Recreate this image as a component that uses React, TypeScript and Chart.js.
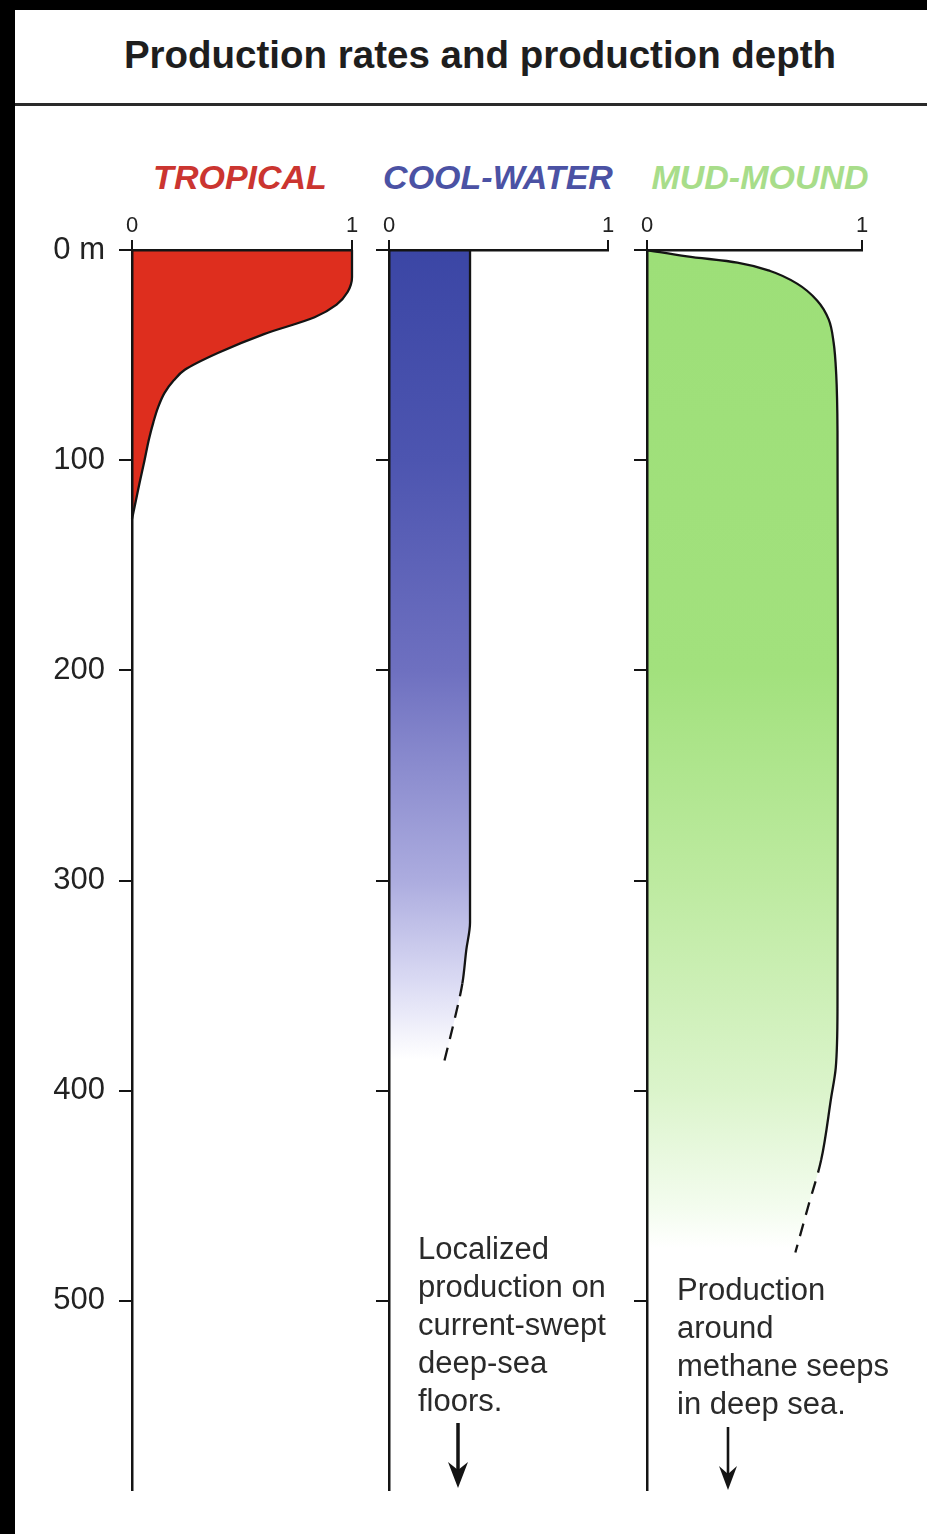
import React, { useEffect, useRef } from 'react';
import { Chart, registerables } from 'chart.js';

Chart.register(...registerables);

// ---------- data ----------
const TITLE = 'Production rates and production depth';
const PANEL_NAMES = ['TROPICAL', 'COOL-WATER', 'MUD-MOUND'];
const PANEL_NAME_COLORS = ['#cb3530', '#4b52a4', '#a8dd8a'];

const DEPTH_MAX = 590;
const DEPTH_TICKS = [0, 100, 200, 300, 400, 500];
const DEPTH_TICK_LABELS = ['0 m', '100', '200', '300', '400', '500'];
const RATE_TICKS = [0, 1];
const RATE_TICK_LABELS = ['0', '1'];

const TROPICAL_DEPTH = [0, 13, 20, 26, 32, 40, 49, 57, 62, 68, 75, 82, 90, 100, 110, 117, 128];
const TROPICAL_RATE = [1, 1, 0.98, 0.93, 0.83, 0.6, 0.39, 0.24, 0.19, 0.148, 0.118, 0.097, 0.077, 0.057, 0.036, 0.022, 0];

const COOL_DEPTH = [0, 320, 333, 349, 368, 387];
const COOL_RATE = [0.37, 0.37, 0.353, 0.335, 0.295, 0.25];
const COOL_DASH_FROM = 349;

const MUD_DEPTH = [0, 3, 6, 10, 16, 24, 33, 44, 59, 86, 200, 360, 389, 403, 433, 455, 477];
const MUD_RATE = [0, 0.186, 0.42, 0.573, 0.698, 0.791, 0.845, 0.868, 0.88, 0.886, 0.888, 0.886, 0.878, 0.857, 0.81, 0.75, 0.69];
const MUD_DASH_FROM = 433;

const TROPICAL_GRAD_DEPTH = [0, 590];
const TROPICAL_GRAD_COLOR = ['#de2e1e', '#de2e1e'];
const COOL_GRAD_DEPTH = [0, 100, 200, 300, 350, 385];
const COOL_GRAD_COLOR = ['#3b46a5', '#4d55b0', '#6e70c0', '#acacdf', '#dcdcf4', '#ffffff'];
const MUD_GRAD_DEPTH = [0, 200, 300, 400, 455, 475];
const MUD_GRAD_COLOR = ['#9ddf78', '#a2e17d', '#bdeaa0', '#dbf4cb', '#f3fcee', '#ffffff'];

const COOL_NOTE = ['Localized', 'production on', 'current-swept', 'deep-sea', 'floors.'];
const MUD_NOTE = ['Production', 'around', 'methane seeps', 'in deep sea.'];

// ---------- layout ----------
const FONT = '"Liberation Sans", Arial, Helvetica, sans-serif';
const CANVAS_TOP = 190;
const AXIS_TOP = 250;
const AXIS_BOTTOM = 1490;
const PAD_RIGHT = 20;
const PAD_BOTTOM = 40;

type PanelProps = {
  depth: number[];
  rate: number[];
  dashFrom: number | null;
  gradDepth: number[];
  gradColor: string[];
  areaLeft: number;
  areaWidth: number;
  yAxisWidth: number;
  showDepthLabels: boolean;
};

function Panel(p: PanelProps) {
  const ref = useRef<HTMLCanvasElement>(null);
  useEffect(() => {
    const makeGradient = (chart: any) => {
      const { chartArea, scales } = chart;
      if (!chartArea) return p.gradColor[0];
      const y0 = scales.y.getPixelForValue(0);
      const y1 = scales.y.getPixelForValue(DEPTH_MAX);
      const g = chart.ctx.createLinearGradient(0, y0, 0, y1);
      p.gradDepth.forEach((d, i) => g.addColorStop(Math.min(1, d / DEPTH_MAX), p.gradColor[i]));
      return g;
    };
    const points = p.depth.map((d, i) => ({ x: p.rate[i], y: d }));
    const chart = new Chart(ref.current as HTMLCanvasElement, {
      type: 'line',
      data: {
        datasets: [
          {
            data: points,
            borderColor: '#141414',
            borderWidth: 2.3,
            pointRadius: 0,
            fill: false,
            cubicInterpolationMode: 'monotone',
            clip: 8,
            segment: {
              borderDash: (s: any) =>
                p.dashFrom !== null && s.p0.parsed.y >= p.dashFrom ? [13, 9] : undefined,
            },
          } as any,
          {
            data: points,
            borderWidth: 0,
            borderColor: 'rgba(0,0,0,0)',
            pointRadius: 0,
            fill: 'origin',
            backgroundColor: (ctx: any) => makeGradient(ctx.chart),
            cubicInterpolationMode: 'monotone',
            clip: 8,
          } as any,
        ],
      },
      options: {
        indexAxis: 'y',
        animation: false,
        responsive: true,
        maintainAspectRatio: false,
        events: [],
        layout: { autoPadding: false, padding: { left: 0, right: PAD_RIGHT, top: 0, bottom: PAD_BOTTOM } },
        plugins: { legend: { display: false }, tooltip: { enabled: false } },
        scales: {
          x: {
            type: 'linear',
            position: 'top',
            min: 0,
            max: 1,
            afterBuildTicks: (s: any) => {
              s.ticks = RATE_TICKS.map((v) => ({ value: v }));
            },
            afterFit: (s: any) => {
              s.height = AXIS_TOP - CANVAS_TOP;
            },
            ticks: {
              callback: (_v: any, i: number) => RATE_TICK_LABELS[i],
              font: { family: FONT, size: 22 },
              color: '#222',
              padding: 1,
              maxRotation: 0,
              autoSkip: false,
              z: 1,
            },
            grid: { drawOnChartArea: false, drawTicks: true, tickLength: 10, color: '#141414', lineWidth: 2, z: 1 },
            border: { display: true, color: '#141414', width: 2.5, z: 2 },
          },
          y: {
            type: 'linear',
            reverse: true,
            min: 0,
            max: DEPTH_MAX,
            afterBuildTicks: (s: any) => {
              s.ticks = DEPTH_TICKS.map((v) => ({ value: v }));
            },
            afterFit: (s: any) => {
              s.width = p.yAxisWidth;
            },
            ticks: {
              display: p.showDepthLabels,
              callback: (_v: any, i: number) => DEPTH_TICK_LABELS[i],
              font: { family: FONT, size: 31 },
              color: '#222',
              padding: 14,
              autoSkip: false,
              z: 1,
            },
            grid: { drawOnChartArea: false, drawTicks: true, tickLength: 13, color: '#141414', lineWidth: 2, z: 1 },
            border: { display: true, color: '#141414', width: 2.5, z: 2 },
          },
        },
      } as any,
    });
    return () => chart.destroy();
  }, []);
  const left = p.areaLeft - p.yAxisWidth;
  const width = p.yAxisWidth + p.areaWidth + PAD_RIGHT;
  const height = AXIS_BOTTOM - CANVAS_TOP + PAD_BOTTOM;
  return (
    <div style={{ position: 'absolute', left, top: CANVAS_TOP, width, height }}>
      <canvas ref={ref} />
    </div>
  );
}

function Note({ lines, left, top }: { lines: string[]; left: number; top: number }) {
  return (
    <div
      style={{
        position: 'absolute',
        left,
        top,
        fontFamily: FONT,
        fontSize: 31,
        lineHeight: '38px',
        color: '#2a2a2a',
        whiteSpace: 'nowrap',
      }}
    >
      {lines.map((l, i) => (
        <div key={i}>{l}</div>
      ))}
    </div>
  );
}

export default function App() {
  const nameCenters = [240, 498, 760];
  return (
    <div style={{ position: 'absolute', left: 0, top: 0, width: 927, height: 1534, background: '#000', overflow: 'hidden' }}>
      <div style={{ position: 'absolute', left: 15, top: 10, right: 0, bottom: 0, background: '#fff' }} />
      <div style={{ position: 'absolute', left: 15, top: 103, right: 0, height: 3, background: '#2a2a2a' }} />
      <div
        style={{
          position: 'absolute',
          left: 24,
          width: 912,
          top: 36,
          textAlign: 'center',
          fontFamily: FONT,
          fontWeight: 'bold',
          fontSize: 38.5,
          lineHeight: 1,
          color: '#1e1e1e',
          whiteSpace: 'nowrap',
        }}
      >
        {TITLE}
      </div>
      {PANEL_NAMES.map((n, i) => (
        <div
          key={n}
          style={{
            position: 'absolute',
            left: nameCenters[i] - 150,
            width: 300,
            top: 160,
            textAlign: 'center',
            fontFamily: FONT,
            fontWeight: 'bold',
            fontStyle: 'italic',
            fontSize: 34,
            lineHeight: 1,
            color: PANEL_NAME_COLORS[i],
            whiteSpace: 'nowrap',
          }}
        >
          {n}
        </div>
      ))}
      <Panel
        depth={TROPICAL_DEPTH}
        rate={TROPICAL_RATE}
        dashFrom={null}
        gradDepth={TROPICAL_GRAD_DEPTH}
        gradColor={TROPICAL_GRAD_COLOR}
        areaLeft={132}
        areaWidth={220}
        yAxisWidth={132}
        showDepthLabels={true}
      />
      <Panel
        depth={COOL_DEPTH}
        rate={COOL_RATE}
        dashFrom={COOL_DASH_FROM}
        gradDepth={COOL_GRAD_DEPTH}
        gradColor={COOL_GRAD_COLOR}
        areaLeft={389}
        areaWidth={219}
        yAxisWidth={20}
        showDepthLabels={false}
      />
      <Panel
        depth={MUD_DEPTH}
        rate={MUD_RATE}
        dashFrom={MUD_DASH_FROM}
        gradDepth={MUD_GRAD_DEPTH}
        gradColor={MUD_GRAD_COLOR}
        areaLeft={647}
        areaWidth={215}
        yAxisWidth={20}
        showDepthLabels={false}
      />
      <Note lines={COOL_NOTE} left={418} top={1230} />
      <Note lines={MUD_NOTE} left={677} top={1271} />
      <svg style={{ position: 'absolute', left: 0, top: 0 }} width={927} height={1534}>
        <line x1={458} y1={1423} x2={458} y2={1472} stroke="#141414" strokeWidth={3.5} />
        <path d="M448,1462 L458,1488 L468,1462 L458,1470 Z" fill="#141414" />
        <line x1={728} y1={1427} x2={728} y2={1476} stroke="#141414" strokeWidth={2.6} />
        <path d="M719,1466 L728,1490 L737,1466 L728,1474 Z" fill="#141414" />
      </svg>
    </div>
  );
}
